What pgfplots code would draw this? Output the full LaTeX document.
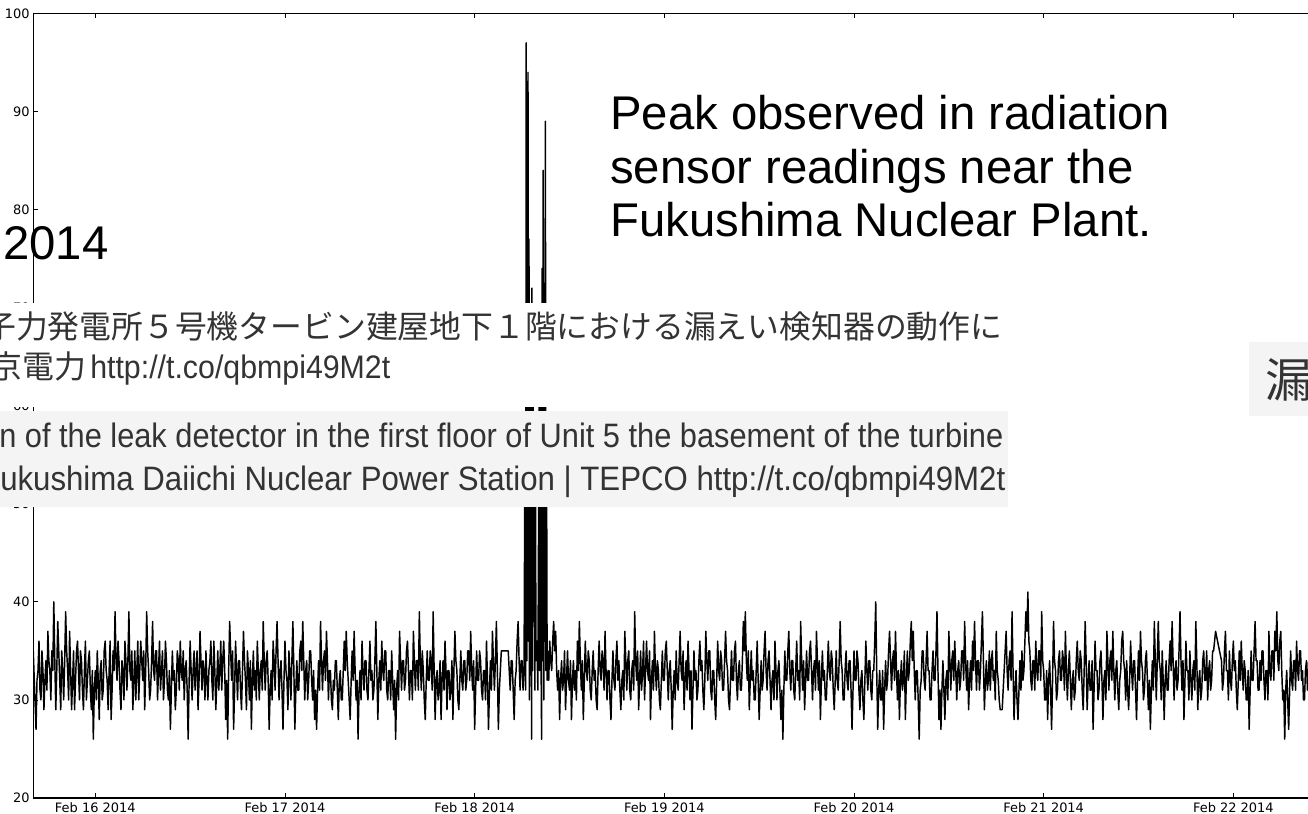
\documentclass[border=0pt]{standalone}
\usepackage{fontspec}
\setmainfont{DejaVu Sans}
\newfontfamily\arialfont{Liberation Sans}
\newfontfamily\cjk{Noto Sans CJK JP}
\usepackage{graphicx}
\usepackage{pgfplots}
\pgfplotsset{compat=1.18}
\definecolor{tweet}{HTML}{333333}
\definecolor{boxgray}{HTML}{F4F4F4}
\newdimen\pxu \pxu=0.75bp
\begin{document}
\begin{tikzpicture}[x=0.75bp,y=0.75bp]
\useasboundingbox (0,0) rectangle (1308,813);
\clip (0,0) rectangle (1308,813);
\begin{axis}[
  at={(24.975bp,11.25bp)}, anchor=south west,
  scale only axis, width=965bp, height=588.4bp,
  xmin=-31.38, xmax=619.85, ymin=20, ymax=100,
  xtick={0,96,192,288,384,480,576},
  xticklabels={Feb 16 2014,Feb 17 2014,Feb 18 2014,Feb 19 2014,Feb 20 2014,Feb 21 2014,Feb 22 2014},
  ytick={20,30,40,50,60,70,80,90,100},
  axis line style={line width=0.8bp},
  major tick length=3.75bp,
  tick style={black, line width=0.6bp},
  tick align=inside,
  /pgf/number format/assume math mode=true,
  tick label style={font=\fontsize{9.75}{11}\selectfont},
  yticklabel style={inner sep=0pt, xshift=-2.5bp},
  xticklabel style={inner sep=0pt, yshift=-3.5bp},
]
\addplot[black, line width=1.1bp, line join=round, mark=none] coordinates {
(-31.4,35)(-30.7,31)(-30,27)(-29.5,32)(-29,33)(-28.5,36)(-28,31)(-27.5,30)(-27,35)(-26.5,33)(-26,29)(-25.5,32)(-25,34)(-24.5,31)(-24,37)(-23.5,34)(-23,33)(-22.5,30)(-22,35)(-21.5,33)(-21,40)(-20.5,34)(-20,29)(-19.5,33)(-19,38)(-18.5,35)(-18,32)(-17.5,29)(-17,35)(-16.5,33)(-16,30)(-15.5,34)
(-15,39)(-14.5,35)(-14,33)(-13.5,30)(-13,37)(-12.5,33)(-12,29)(-11.5,32)(-11,35)(-10.5,29)(-10,32)(-9.5,35)(-9,36)(-8.5,33)(-8,30)(-7.5,35)(-7,34)(-6.5,31)(-6,29)(-5.5,33)(-5,36)(-4.5,30)(-4,32)(-3.5,34)(-3,35)(-2.5,31)(-2,29)(-1.5,33)(-1,26)(-0.5,31)(0,33)(0.5,30)
(1,35)(1.5,32)(2,28)(2.5,33)(3,34)(3.5,30)(4,31)(4.5,35)(5,36)(5.5,33)(6,32)(6.5,29)(7,33)(7.5,36)(8,28)(8.5,31)(9,35)(9.5,33)(10,39)(10.5,34)(11,32)(11.5,36)(12,34)(12.5,31)(13,29)(13.5,34)(14,33)(14.5,30)(15,36)(15.5,34)(16,31)(16.5,34)
(17,39)(17.5,33)(18,32)(18.5,35)(19,29)(19.5,32)(20,35)(20.5,30)(21,33)(21.5,36)(22,30)(22.5,33)(23,36)(23.5,34)(24,32)(24.5,35)(25,29)(25.5,33)(26,39)(26.5,35)(27,33)(27.5,30)(28,31)(28.5,34)(29,38)(29.5,33)(30,32)(30.5,35)(31,35)(31.5,30)(32,33)(32.5,36)
(33,31)(33.5,33)(34,35)(34.5,30)(35,32)(35.5,36)(36,34)(36.5,31)(37,30)(37.5,33)(38,27)(38.5,31)(39,35)(39.5,32)(40,33)(40.5,29)(41,31)(41.5,35)(42,34)(42.5,31)(43,36)(43.5,33)(44,32)(44.5,35)(45,30)(45.5,33)(46,34)(46.5,31)(47,26)(47.5,32)(48,36)(48.5,33)
(49,30)(49.5,33)(50,35)(50.5,31)(51,33)(51.5,35)(52,29)(52.5,32)(53,37)(53.5,34)(54,31)(54.5,34)(55,33)(55.5,30)(56,35)(56.5,32)(57,30)(57.5,33)(58,34)(58.5,36)(59,32)(59.5,30)(60,36)(60.5,33)(61,29)(61.5,32)(62,35)(62.5,31)(63,33)(63.5,36)(64,31)(64.5,34)
(65,36)(65.5,33)(66,28)(66.5,32)(67,26)(67.5,33)(68,38)(68.5,35)(69,32)(69.5,35)(70,27)(70.5,31)(71,36)(71.5,33)(72,30)(72.5,34)(73,34)(73.5,31)(74,29)(74.5,33)(75,37)(75.5,34)(76,32)(76.5,29)(77,35)(77.5,33)(78,30)(78.5,34)(79,27)(79.5,32)(80,35)(80.5,31)
(81,33)(81.5,30)(82,36)(82.5,33)(83,30)(83.5,33)(84,34)(84.5,31)(85,38)(85.5,34)(86,31)(86.5,34)(87,35)(87.5,32)(88,27)(88.5,31)(89,33)(89.5,30)(90,36)(90.5,34)(91,31)(91.5,35)(92,38)(92.5,34)(93,30)(93.5,33)(94,34)(94.5,31)(95,27)(95.5,32)(96,36)(96.5,33)
(97,32)(97.5,29)(98,35)(98.5,33)(99,30)(99.5,34)(100,38)(100.5,33)(101,27)(101.5,31)(102,34)(102.5,31)(103,31)(103.5,35)(104,36)(104.5,33)(105,38)(105.5,34)(106,30)(106.5,33)(107,34)(107.5,30)(108,32)(108.5,35)(109,35)(109.5,32)(110,30)(110.5,33)(111,28)(111.5,31)(112,27)(112.5,31)
(113,34)(113.5,31)(114,38)(114.5,34)(115,31)(115.5,34)(116,35)(116.5,32)(117,37)(117.5,34)(118,30)(118.5,33)(119,33)(119.5,30)(120,29)(120.5,32)(121,31)(121.5,34)(122,34)(122.5,31)(123,28)(123.5,32)(124,33)(124.5,30)(125,30)(125.5,33)(126,36)(126.5,33)(127,37)(127.5,34)(128,32)(128.5,30)
(129,28)(129.5,32)(130,35)(130.5,32)(131,37)(131.5,33)(132,30)(132.5,32)(133,26)(133.5,31)(134,33)(134.5,30)(135,36)(135.5,33)(136,31)(136.5,34)(137,34)(137.5,31)(138,30)(138.5,33)(139,36)(139.5,32)(140,33)(140.5,30)(141,31)(141.5,34)(142,38)(142.5,33)(143,28)(143.5,32)(144,34)(144.5,31)
(145,36)(145.5,33)(146,32)(146.5,35)(147,35)(147.5,31)(148,30)(148.5,33)(149,33)(149.5,30)(150,35)(150.5,32)(151,29)(151.5,32)(152,26)(152.5,31)(153,33)(153.5,30)(154,37)(154.5,34)(155,31)(155.5,34)(156,34)(156.5,31)(157,32)(157.5,35)(158,36)(158.5,33)(159,30)(159.5,33)(160,33)(160.5,30)
(161,37)(161.5,34)(162,31)(162.5,34)(163,34)(163.5,31)(164,39)(164.5,34)(165,31)(165.5,35)(166,33)(166.5,30)(167,28)(167.5,32)(168,35)(168.5,32)(169,32)(169.5,35)(170,34)(170.5,31)(171,39)(171.5,33)(172,28)(172.5,32)(173,33)(173.5,30)(174,31)(174.5,34)(175,28)(175.5,32)(176,34)(176.5,31)
(177,36)(177.5,33)(178,29)(178.5,33)(179,33)(179.5,30)(180,31)(180.5,34)(181,28)(181.5,33)(182,37)(182.5,34)(183,33)(183.5,30)(184,29)(184.5,32)(185,35)(185.5,32)(186,31)(186.5,34)(187,34)(187.5,31)(188,32)(188.5,35)(189,35)(189.5,32)(190,37)(190.5,33)(191,31)(191.5,34)(192,27)(192.5,31)
(193,35)(193.5,32)(194,32)(194.5,35)(195,34)(195.5,31)(196,30)(196.5,33)(197,33)(197.5,30)(198,36)(198.5,32)(199,27)(199.5,31)(200,34)(200.5,31)(201,37)(201.5,34)(202,31)(202.5,34)(203,38)(203.5,33)(204,27)(204.5,31)(205,33)(205.5,35)(206,35)(207,35)(208,35)
(209,35)(209.5,33)(210,31)(210.5,34)(211,34)(211.5,31)(212,28)(212.5,32)(213,33)(213.5,36)(214,38)(214.5,34)(215,31)(215.5,34)(216,34)(216.5,31)
(217,33)(217.5,58)(217.8,31)(218.1,97)(218.4,34)(218.7,62)(219,94)(219.25,36)(219.5,77)(219.75,30)(220,65)(220.3,35)(220.6,55)(220.8,26)(221,72)(221.3,33)(221.6,60)(221.9,38)(222.2,52)(222.5,31)(222.8,57)(223,34)(223.5,36)(224,31)
(224.6,60)(224.9,33)(225.2,66)(225.5,37)(225.9,26)(226.2,74)(226.45,34)(226.7,84)(227,30)(227.3,62)(227.55,36)(227.8,89)(228.1,33)(228.4,55)(228.7,32)
(229,35)(229.5,32)(230,36)(230.5,34)(231,33)(231.5,36)(232,38)(232.5,35)(233,37)(233.5,33)(234,31)(234.5,33)(235,28)(235.5,32)(236,34)(236.5,31)(237,32)(237.5,35)(238,29)(238.5,32)(239,35)(239.5,32)(240,31)(240.5,34)
(241,28)(241.5,32)(242,34)(242.5,31)(243,33)(243.5,30)(244,36)(244.5,33)(245,38)(245.5,34)(246,31)(246.5,34)(247,28)(247.5,32)(248,36)(248.5,33)(249,32)(249.5,35)(250,34)(250.5,31)(251,30)(251.5,33)(252,35)(252.5,32)(253,33)(253.5,30)(254,29)(254.5,33)(255,36)(255.5,33)(256,32)(256.5,35)
(257,34)(257.5,31)(258,37)(258.5,33)(259,30)(259.5,33)(260,33)(260.5,30)(261,28)(261.5,32)(262,35)(262.5,32)(263,31)(263.5,34)(264,36)(264.5,32)(265,34)(265.5,31)(266,29)(266.5,32)(267,33)(267.5,30)(268,37)(268.5,34)(269,31)(269.5,34)(270,35)(270.5,31)(271,30)(271.5,33)(272,34)(272.5,31)
(273,39)(273.5,34)(274,32)(274.5,35)(275,29)(275.5,32)(276,35)(276.5,31)(277,33)(277.5,36)(278,30)(278.5,33)(279,36)(279.5,33)(280,32)(280.5,35)(281,28)(281.5,32)(282,34)(282.5,31)(283,37)(283.5,33)(284,31)(284.5,34)(285,33)(285.5,30)(286,29)(286.5,32)(287,35)(287.5,32)(288,32)(288.5,35)
(289,36)(289.5,33)(290,30)(290.5,33)(291,34)(291.5,31)(292,27)(292.5,31)(293,33)(293.5,30)(294,35)(294.5,32)(295,31)(295.5,34)(296,37)(296.5,33)(297,32)(297.5,35)(298,29)(298.5,32)(299,34)(299.5,31)(300,36)(300.5,33)(301,30)(301.5,33)(302,27)(302.5,31)(303,35)(303.5,32)(304,33)(304.5,30)
(305,31)(305.5,34)(306,36)(306.5,33)(307,34)(307.5,31)(308,29)(308.5,32)(309,37)(309.5,34)(310,32)(310.5,35)(311,35)(311.5,31)(312,30)(312.5,33)(313,33)(313.5,30)(314,28)(314.5,32)(315,36)(315.5,33)(316,32)(316.5,35)(317,34)(317.5,31)(318,31)(318.5,34)(319,37)(319.5,34)(320,33)(320.5,30)
(321,29)(321.5,32)(322,35)(322.5,32)(323,32)(323.5,35)(324,36)(324.5,32)(325,30)(325.5,33)(326,34)(326.5,31)(327,31)(327.5,34)(328,38)(328.5,35)(329,39)(329.5,34)(330,32)(330.5,35)(331,29)(331.5,32)(332,35)(332.5,32)(333,33)(333.5,30)(334,30)(334.5,33)(335,36)(335.5,32)(336,28)(336.5,31)
(337,34)(337.5,31)(338,32)(338.5,35)(339,37)(339.5,33)(340,31)(340.5,34)(341,35)(341.5,32)(342,29)(342.5,32)(343,33)(343.5,30)(344,36)(344.5,33)(345,30)(345.5,33)(346,34)(346.5,31)(347,28)(347.5,31)(348,26)(348.5,31)(349,35)(349.5,32)(350,32)(350.5,35)(351,37)(351.5,33)(352,31)(352.5,34)
(353,34)(353.5,31)(354,30)(354.5,33)(355,36)(355.5,32)(356,33)(356.5,30)(357,38)(357.5,34)(358,31)(358.5,34)(359,29)(359.5,32)(360,35)(360.5,32)(361,32)(361.5,35)(362,36)(362.5,33)(363,30)(363.5,33)(364,34)(364.5,31)(365,37)(365.5,34)(366,31)(366.5,34)(367,28)(367.5,32)(368,35)(368.5,32)
(369,33)(369.5,30)(370,30)(370.5,33)(371,36)(371.5,33)(372,32)(372.5,35)(373,34)(373.5,31)(374,29)(374.5,32)(375,35)(375.5,32)(376,31)(376.5,34)
(377,38)(377.5,34)(378,33)(378.5,30)(379,30)(379.5,33)(380,35)(380.5,32)(381,31)(381.5,34)(382,34)(382.5,31)(383,27)(383.5,31)(384,35)(384.5,32)(385,32)(385.5,35)(386,34)(386.5,31)(387,29)(387.5,32)(388,33)(388.5,30)(389,28)(389.5,32)(390,36)(390.5,33)(391,31)(391.5,34)(392,34)(392.5,31)
(393,30)(393.5,33)(394,33)(394.5,36)(395,40)(395.5,33)(396,27)(396.5,31)(397,33)(397.5,30)(398,30)(398.5,33)(399,27)(399.5,31)(400,34)(400.5,31)(401,32)(401.5,35)(402,37)(402.5,34)(403,31)(403.5,34)(404,35)(404.5,32)(405,37)(405.5,33)(406,30)(406.5,33)(407,28)(407.5,32)(408,34)(408.5,31)
(409,32)(409.5,35)(410,28)(410.5,32)(411,35)(411.5,32)(412,33)(412.5,36)(413,38)(413.5,34)(414,37)(414.5,33)(415,30)(415.5,33)(416,33)(416.5,30)(417,26)(417.5,31)(418,32)(418.5,35)(419,35)(419.5,32)(420,31)(420.5,34)(421,37)(421.5,33)(422,33)(422.5,30)(423,30)(423.5,33)(424,35)(424.5,32)
(425,32)(425.5,35)(426,39)(426.5,33)(427,28)(427.5,31)(428,27)(428.5,31)(429,34)(429.5,31)(430,28)(430.5,32)(431,33)(431.5,30)(432,37)(432.5,34)(433,31)(433.5,34)(434,35)(434.5,32)(435,36)(435.5,33)(436,30)(436.5,33)(437,34)(437.5,31)(438,32)(438.5,35)(439,35)(439.5,32)(440,38)(440.5,34)
(441,31)(441.5,34)(442,29)(442.5,32)(443,34)(443.5,31)(444,36)(444.5,33)(445,38)(445.5,34)(446,31)(446.5,34)(447,34)(447.5,31)(448,33)(448.5,36)(449,39)(449.5,34)(450,29)(450.5,32)(451,34)(451.5,31)(452,32)(452.5,35)(453,31)(453.5,34)(454,35)(454.5,32)(455,33)(455.5,30)(456,37)(456.5,33)
(457,32)(457.5,30)(458,29)(458.5,29)(459,29)(459.5,31)(460,33)(460.5,35)(461,37)(461.5,33)(462,31)(462.5,34)(463,35)(463.5,32)(464,39)(464.5,33)(465,28)(465.5,31)(466,33)(466.5,30)(467,28)(467.5,31)(468,34)(468.5,31)(469,35)(469.5,32)(470,33)(470.5,36)(471,39)(471.5,37)(472,41)(472.5,36)
(473,35)(473.5,32)(474,31)(474.5,34)(475,34)(475.5,31)(476,36)(476.5,33)(477,32)(477.5,35)(478,35)(478.5,32)(479,39)(479.5,34)(480,33)(480.5,30)(481,30)(481.5,33)(482,28)(482.5,32)(483,34)(483.5,31)(484,27)(484.5,32)(485,38)(485.5,34)(486,33)(486.5,30)(487,31)(487.5,34)(488,35)(488.5,32)
(489,32)(489.5,35)(490,34)(490.5,31)(491,37)(491.5,33)(492,30)(492.5,33)(493,35)(493.5,32)(494,29)(494.5,32)(495,33)(495.5,30)(496,31)(496.5,34)(497,36)(497.5,33)(498,32)(498.5,35)(499,34)(499.5,31)(500,29)(500.5,33)(501,38)(501.5,34)(502,29)(502.5,32)(503,34)(503.5,31)(504,31)(504.5,34)
(505,27)(505.5,31)(506,36)(506.5,33)(507,33)(507.5,30)(508,31)(508.5,34)(509,35)(509.5,32)(510,28)(510.5,32)(511,33)(511.5,30)(512,37)(512.5,34)(513,31)(513.5,34)(514,35)(514.5,32)(515,37)(515.5,33)(516,30)(516.5,33)(517,34)(517.5,31)(518,29)(518.5,32)(519,33)(519.5,36)(520,37)(520.5,34)
(521,33)(521.5,30)(522,34)(522.5,31)(523,29)(523.5,32)(524,36)(524.5,33)(525,31)(525.5,34)(526,34)(526.5,31)(527,28)(527.5,32)(528,35)(528.5,32)(529,37)(529.5,34)(530,33)(530.5,30)(531,31)(531.5,34)(532,35)(532.5,32)(533,29)(533.5,32)(534,27)(534.5,31)(535,34)(535.5,31)(536,38)(536.5,34)
(537,30)(537.5,34)(538,38)(538.5,34)(539,33)(539.5,30)(540,35)(540.5,32)(541,28)(541.5,32)(542,34)(542.5,31)(543,31)(543.5,34)(544,36)(544.5,33)(545,38)(545.5,34)(546,30)(546.5,33)(547,34)(547.5,31)(548,32)(548.5,35)(549,39)(549.5,34)(550,31)(550.5,34)(551,28)(551.5,32)(552,36)(552.5,33)
(553,33)(553.5,30)(554,35)(554.5,32)(555,30)(555.5,33)(556,34)(556.5,31)(557,38)(557.5,34)(558,29)(558.5,32)(559,33)(559.5,30)(560,31)(560.5,34)(561,35)(561.5,32)(562,32)(562.5,35)(563,30)(563.5,33)(564,34)(564.5,31)(565,32)(565.5,35)(566,35)(566.5,36)(567,37)
(570,34)(570.5,31)(571,32)(571.5,35)(572,37)(572.5,33)(573,33)(573.5,30)(574,35)(574.5,32)(575,31)(575.5,34)(576,36)(576.5,33)(577,34)(577.5,31)(578,29)(578.5,32)(579,35)(579.5,32)(580,36)(580.5,33)(581,31)(581.5,34)(582,33)(582.5,30)(583,30)(583.5,33)(584,27)(584.5,31)(585,35)(585.5,32)(586,32)(586.5,35)
(587,38)(587.5,34)(588,34)(588.5,31)(589,31)(589.5,34)(590,32)(590.5,35)(591,35)(591.5,32)(592,30)(592.5,33)(593,33)(593.5,30)(594,37)(594.5,33)(595,32)(595.5,35)(596,35)(596.5,32)(597,37)(597.5,35)(598,39)(598.5,34)(599,33)(599.5,36)(600,37)(600.5,33)(601,30)(601.5,31)(602,26)(602.5,31)
(603,33)(603.5,30)(604,27)(604.5,31)(605,35)(605.5,32)(606,31)(606.5,34)(607,34)(607.5,31)(608,36)(608.5,33)(609,32)(609.5,35)(610,35)(610.5,32)(611,33)(611.5,30)(612,30)(612.5,33)(613,34)(613.5,31)(614,33)(614.5,36)(615,35)(615.5,32)(616,31)(616.5,34)(617,34)(617.5,31)(618,32)(618.5,35)(619,35)(619.5,32)(620,33)
};
\end{axis}
% overlays
\fill[white] (-5,406.5) rectangle (1010,510);
\fill[boxgray] (-5,306) rectangle (1008,402);
\fill[boxgray] (1249,397) rectangle (1320,471);
\node[anchor=base west, inner sep=0pt, text=tweet] at (-16,475) {\resizebox{1018\pxu}{\height}{\cjk\fontsize{24}{24}\selectfont 子力発電所５号機タービン建屋地下１階における漏えい検知器の動作に}};
\node[anchor=base west, inner sep=0pt, text=tweet] at (-10,435) {\cjk\fontsize{24}{24}\selectfont 京電力};
\node[anchor=base west, inner sep=0pt, text=tweet] at (90,435) {\resizebox{300\pxu}{\height}{\arialfont\fontsize{24.5}{24}\selectfont http://t.co/qbmpi49M2t}};
\node[anchor=base west, inner sep=0pt, text=tweet] at (-1,366) {\resizebox{1004\pxu}{\height}{\arialfont\fontsize{25.5}{24}\selectfont n of the leak detector in the first floor of Unit 5 the basement of the turbine}};
\node[anchor=base west, inner sep=0pt, text=tweet] at (0,323) {\resizebox{1005\pxu}{\height}{\arialfont\fontsize{25.5}{24}\selectfont ukushima Daiichi Nuclear Power Station | TEPCO http://t.co/qbmpi49M2t}};
\node[anchor=base west, inner sep=0pt, text=tweet] at (1265,416) {\cjk\fontsize{35.25}{36}\selectfont 漏};
\node[anchor=base west, inner sep=0pt] at (610,683) {\arialfont\fontsize{35.6}{40}\selectfont Peak observed in radiation};
\node[anchor=base west, inner sep=0pt] at (610,629) {\arialfont\fontsize{35.6}{40}\selectfont sensor readings near the};
\node[anchor=base west, inner sep=0pt] at (610,576) {\arialfont\fontsize{35.6}{40}\selectfont Fukushima Nuclear Plant.};
\node[anchor=base west, inner sep=0pt] at (3,553) {\arialfont\fontsize{35.6}{40}\selectfont 2014};
\end{tikzpicture}
\end{document}
